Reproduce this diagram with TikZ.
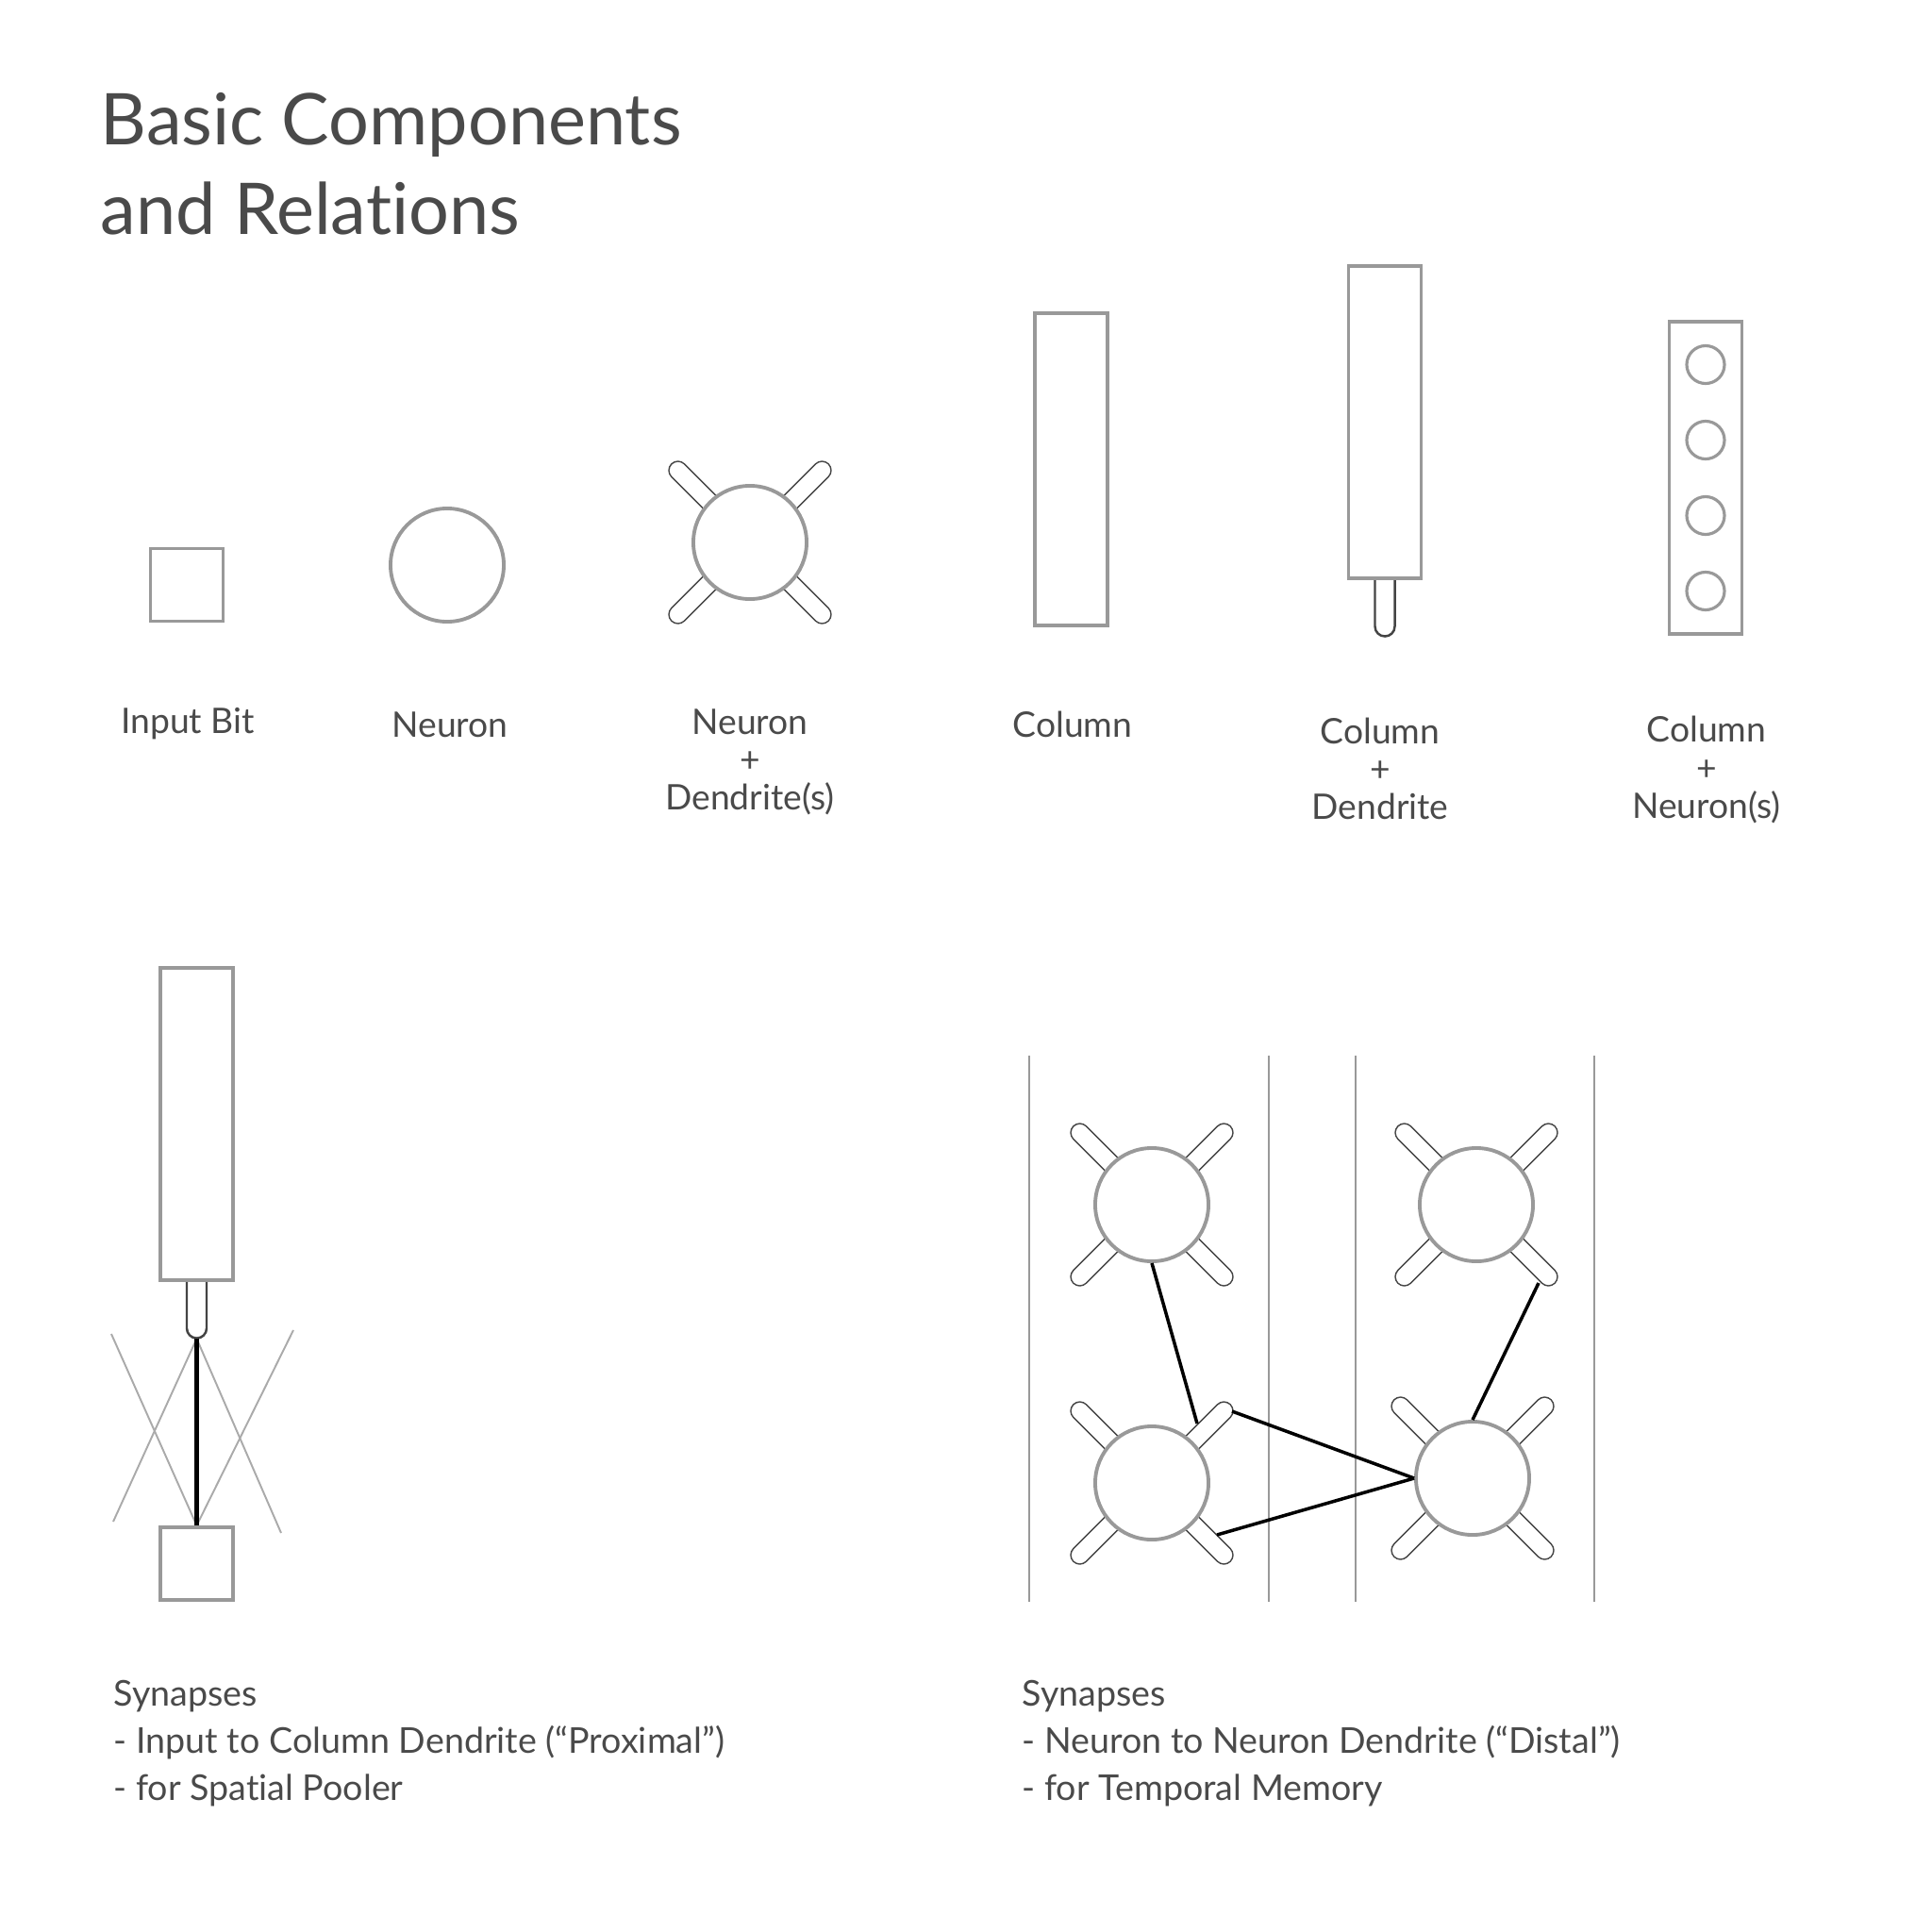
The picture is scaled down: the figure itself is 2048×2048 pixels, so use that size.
\documentclass[tikz,border=0pt]{standalone}
\usepackage{fontspec}
\setmainfont{Lato}[Ligatures=NoCommon]
\usepackage{xcolor}
\definecolor{htmtext}{RGB}{74,74,74}
\definecolor{htmgray}{RGB}{153,153,153}
\definecolor{htmdark}{RGB}{68,68,68}
\definecolor{htmlight}{RGB}{170,170,170}
\usetikzlibrary{calc}

% neuron with four dendrites: name, position
\newcommand{\dendcell}[2]{%
  \foreach \a in {45,135,225,315}
    \draw[dend] ($(#2)+(\a:40)$) -- ($(#2)+(\a:108)$);
  \node[cell] (#1) at (#2) {};
}
% dendrite hanging below a column
\newcommand{\coldend}[1]{%
  \draw[htmdark,line width=0.7pt] ($(#1.south)+(-10.5,0)$) -- ++(0,49)
    arc[start angle=180,end angle=360,radius=0.105cm] -- ++(0,-49);
  \coordinate (#1-tip) at ($(#1.south)+(0,60)$);
}

\begin{document}
\begin{tikzpicture}[x=0.01cm,y=-0.01cm,
  cell/.style={circle,draw=htmgray,line width=1.1pt,fill=white,minimum size=1.2cm,inner sep=0pt},
  small/.style={circle,draw=htmgray,line width=0.9pt,fill=white,minimum size=0.4cm,inner sep=0pt},
  bit/.style={rectangle,draw=htmgray,line width=1.1pt,fill=white,minimum size=0.77cm,inner sep=0pt},
  colbox/.style={rectangle,draw=htmgray,line width=1.1pt,fill=white,minimum width=0.77cm,minimum height=3.31cm,inner sep=0pt},
  dend/.style={draw=htmdark,line width=0.45pt,double=white,double distance=0.175cm,line cap=round},
  lbl/.style={font=\fontsize{10.6}{11.4}\selectfont,text=htmtext,align=center,inner sep=0pt},
  note/.style={font=\fontsize{10.7}{14.2}\selectfont,text=htmtext,align=left,anchor=west,inner sep=0pt},
  syn/.style={black,line width=1pt},
  sep/.style={htmgray,line width=0.55pt}]
  \fill[white] (0,0) rectangle (2048,2048);
  \useasboundingbox (0,0) rectangle (2048,2048);
  % Title
  \node[font=\fontsize{21.5}{27}\selectfont,text=htmtext,anchor=base west,inner sep=0pt] (title1) at (106,153) {Basic Components};
  \node[font=\fontsize{21.5}{27}\selectfont,text=htmtext,anchor=base west,inner sep=0pt] (title2) at (106,248) {and Relations};
  % Components
  \node[bit] (inbit) at (198,620) {};
  \node[cell] (neuron) at (474,599) {};
  \dendcell{dneuron}{795,575}
  \node[colbox] (col) at (1135.5,497.5) {};
  \node[colbox] (cold) at (1468,447.5) {};
  \coldend{cold}
  \node[colbox] (coln) at (1808,506.5) {};
  \foreach \i/\dy in {1/-120,2/-40,3/40,4/120}
    \node[small] (cn\i) at ($(coln)+(0,\dy)$) {};
  \node[lbl] at (199,767) {Input Bit};
  \node[lbl] at (477,768) {Neuron};
  \node[lbl] at (795,808) {Neuron\\+\\Dendrite(s)};
  \node[lbl] at (1137,768) {Column};
  \node[lbl] at (1463,815) {Column\\+\\Dendrite};
  \node[lbl] at (1809,816) {Column\\+\\Neuron(s)};
  % Proximal synapses
  \node[colbox] (pcol) at (208.5,1191.5) {};
  \coldend{pcol}
  \node[bit] (pbit) at (208.5,1657.5) {};
  \coordinate (p1) at (118,1414);
  \coordinate (p2) at (311,1410);
  \coordinate (p3) at (120,1613);
  \coordinate (p4) at (298,1625);
  \draw[htmlight,line width=0.55pt] (pbit.north) -- (p1);
  \draw[htmlight,line width=0.55pt] (pbit.north) -- (p2);
  \draw[htmlight,line width=0.55pt] (pcol-tip) -- (p3);
  \draw[htmlight,line width=0.55pt] (pcol-tip) -- (p4);
  \draw[black,line width=1.5pt] (pcol-tip) -- (pbit.north);
  \node[note] at (120,1848) {Synapses\\- Input to Column Dendrite (“Proximal”)\\- for Spatial Pooler};
  % Distal synapses
  \foreach \x in {1091,1345,1437,1690}
    \draw[sep] (\x,1119) -- (\x,1698);
  \dendcell{tl}{1221,1277}
  \dendcell{tr}{1565,1277}
  \dendcell{bl}{1221,1572}
  \dendcell{br}{1561,1567}
  \draw[syn] (tl.south) -- ($(bl)+(48,-63)$);
  \draw[syn] ($(bl)+(85,-76)$) -- (br.west);
  \draw[syn] ($(bl)+(69,55)$) -- (br.west);
  \draw[syn] ($(tr)+(66,83)$) -- (br.north);
  \node[note] at (1083,1848) {Synapses\\- Neuron to Neuron Dendrite (“Distal”)\\- for Temporal Memory};
\end{tikzpicture}
\end{document}
